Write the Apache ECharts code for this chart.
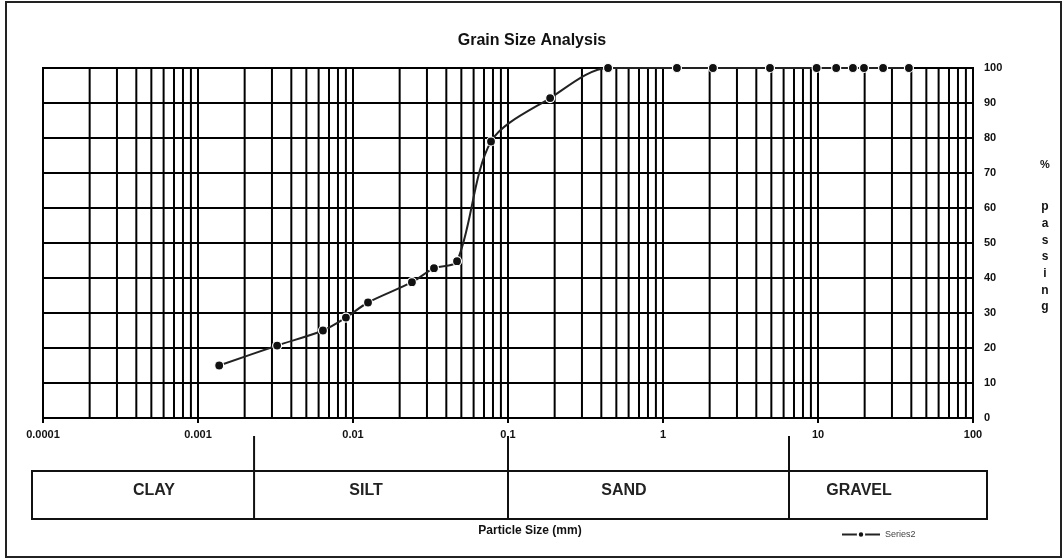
<!DOCTYPE html>
<html><head><meta charset="utf-8">
<script src="https://cdn.jsdelivr.net/npm/echarts@6/dist/echarts.min.js"></script>
<style>html,body{margin:0;padding:0;background:#fff}#c{width:1064px;height:560px}</style>
</head><body><div id="c"></div>
<script>
// ---- data ----
const particleSize = [0.00137, 0.00324, 0.0064, 0.0090, 0.0125, 0.024, 0.0333, 0.0469, 0.0777, 0.187, 0.442, 1.23, 2.1, 4.9, 9.8, 13.1, 16.8, 19.8, 26.3, 38.6];
const percentPassing = [15, 20.7, 25, 28.7, 33, 38.8, 42.8, 44.8, 79, 91.4, 100, 100, 100, 100, 100, 100, 100, 100, 100, 100];
const xTickLabels = ['0.0001', '0.001', '0.01', '0.1', '1', '10', '100'];
const yTickLabels = ['0', '10', '20', '30', '40', '50', '60', '70', '80', '90', '100'];
const soilClasses = ['CLAY', 'SILT', 'SAND', 'GRAVEL'];
const classBounds = [0.0023, 0.1, 6.5];
const seriesName = 'Series2';
const titleText = 'Grain Size Analysis';
const xTitle = 'Particle Size (mm)';
const yTitleTop = '%';
const yTitleWord = 'passing';

// minor grid lines at 2..9 x 10^k (log-paper rulings)
const minorGrid = [];
for (let e = -4; e < 2; e++) for (let m = 2; m <= 9; m++) minorGrid.push(+(m * Math.pow(10, e)).toPrecision(3));

const F = 'Liberation Sans, Arial, sans-serif';
const chart = echarts.init(document.getElementById('c'));
chart.setOption({
  animation: false,
  backgroundColor: '#fff',
  title: { text: titleText, left: 'center', top: 28,
    textStyle: { fontFamily: F, fontSize: 16, fontWeight: 'bold', color: '#111' } },
  legend: { data: [seriesName], left: 836, top: 525, itemWidth: 38, itemHeight: 8, itemGap: 4,
    textStyle: { fontFamily: F, fontSize: 9, color: '#444' } },
  grid: { left: 43, right: 91, top: 68, bottom: 142, show: true, borderColor: '#000', borderWidth: 2 },
  xAxis: {
    type: 'log', logBase: 10, min: 0.0001, max: 100, splitNumber: 6,
    axisLine: { show: true, lineStyle: { color: '#000', width: 2 } },
    axisTick: { show: true, length: 5, lineStyle: { color: '#000', width: 2 } },
    axisLabel: { margin: 11, fontFamily: F, fontSize: 11, fontWeight: 'bold', color: '#111',
      formatter: v => xTickLabels[Math.round(Math.log10(v)) + 4] },
    splitLine: { show: true, lineStyle: { color: '#000', width: 2 } }
  },
  yAxis: {
    type: 'value', position: 'right', min: 0, max: 100, interval: 10,
    axisLine: { show: true, lineStyle: { color: '#000', width: 2 } },
    axisTick: { show: false },
    axisLabel: { margin: 11, fontFamily: F, fontSize: 11, fontWeight: 'bold', color: '#111',
      formatter: v => yTickLabels[Math.round(v / 10)] },
    splitLine: { show: true, lineStyle: { color: '#000', width: 2 } }
  },
  series: [
    {
      type: 'custom', name: 'grid', z: 1, silent: true,
      data: minorGrid,
      renderItem: (params, api) => {
        const p0 = api.coord([api.value(0), 0]);
        const p1 = api.coord([api.value(0), 100]);
        return { type: 'line', shape: { x1: p0[0], y1: p0[1], x2: p1[0], y2: p1[1] },
          style: { stroke: '#000', lineWidth: 2 } };
      },
      encode: { x: 0 }
    },
    {
      type: 'line', name: seriesName, z: 5,
      data: particleSize.map((s, i) => [s, percentPassing[i]]),
      smooth: 0.3,
      symbol: 'circle', symbolSize: 9,
      itemStyle: { color: '#111', borderColor: '#fff', borderWidth: 1.2 },
      lineStyle: { color: '#222', width: 2 }
    }
  ]
});

// classification strip below the axis
const bx = classBounds.map(v => chart.convertToPixel({ xAxisIndex: 0 }, v));
const boxL = 32, boxR = 987, boxT = 471, boxB = 519, divTop = 436;
const labelX = [154, 366, 624, 859];
const g = [
  { type: 'rect', shape: { x: 6, y: 2, width: 1055, height: 555 }, style: { fill: 'none', stroke: '#222', lineWidth: 2 }, z: 10 },
  { type: 'rect', shape: { x: boxL, y: boxT, width: boxR - boxL, height: boxB - boxT }, style: { fill: 'none', stroke: '#111', lineWidth: 2 }, z: 10 }
];
bx.forEach(x => g.push({ type: 'line', shape: { x1: x, y1: divTop, x2: x, y2: boxB }, style: { stroke: '#111', lineWidth: 2 }, z: 10 }));
soilClasses.forEach((t, i) => g.push({ type: 'text', x: labelX[i], y: 491, z: 10,
  style: { text: t, fontFamily: F, fontSize: 16, fontWeight: 'bold', fill: '#222', align: 'center', verticalAlign: 'middle' } }));
g.push({ type: 'text', x: 530, y: 531, z: 10,
  style: { text: xTitle, fontFamily: F, fontSize: 12, fontWeight: 'bold', fill: '#111', align: 'center', verticalAlign: 'middle' } });
g.push({ type: 'text', x: 1045, y: 165, z: 10,
  style: { text: yTitleTop, fontFamily: F, fontSize: 11, fontWeight: 'bold', fill: '#111', align: 'center', verticalAlign: 'middle' } });
g.push({ type: 'text', x: 1045, y: 257, z: 10,
  style: { text: yTitleWord.split('').join('\n'), fontFamily: F, fontSize: 12, fontWeight: 'bold', fill: '#111', align: 'center', verticalAlign: 'middle', lineHeight: 16.7 } });
chart.setOption({ graphic: g });
</script></body></html>
